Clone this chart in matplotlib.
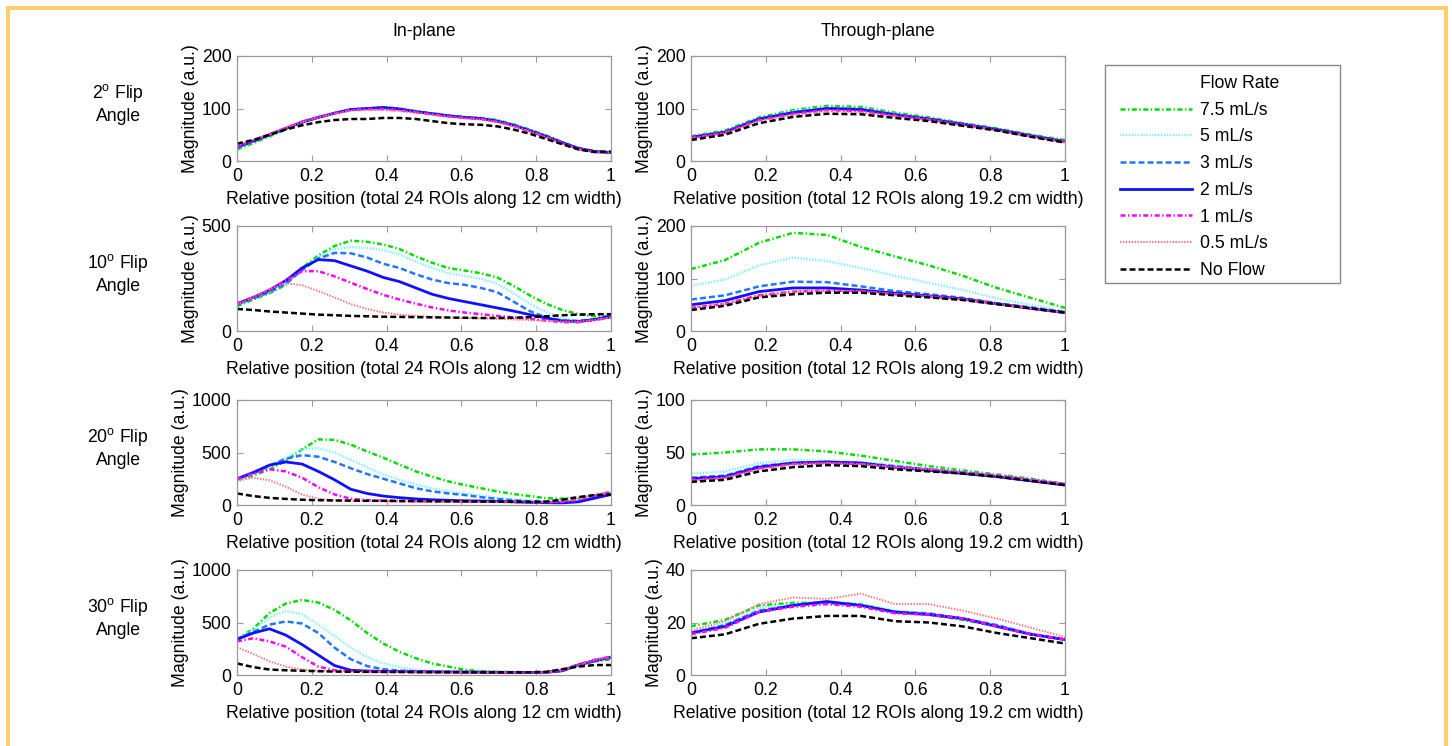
import matplotlib
matplotlib.use("Agg")
import matplotlib.pyplot as plt
from matplotlib.lines import Line2D
from matplotlib.patches import Rectangle
import numpy as np

# ---------------------------------------------------------------- data
flow_labels = ["7.5 mL/s", "5 mL/s", "3 mL/s", "2 mL/s", "1 mL/s", "0.5 mL/s", "No Flow"]
flip_angles = [2, 10, 20, 30]
column_titles = ["In-plane", "Through-plane"]
xlabels = ["Relative position (total 24 ROIs along 12 cm width)",
           "Relative position (total 12 ROIs along 19.2 cm width)"]
x_tick_values = [0, 0.2, 0.4, 0.6, 0.8, 1]
x_tick_labels = ["0", "0.2", "0.4", "0.6", "0.8", "1"]

# ROI centres, normalised to the slab width
n_rois_inplane = 24
n_rois_through = 12

# In-plane profiles (24 ROIs), one row per flow rate in flow_labels order
inplane_02 = [
    [22, 34, 47, 60, 73, 83, 91, 98, 100, 102, 100, 95, 91, 87, 84, 82, 78, 70, 60, 49, 36, 25, 19, 17],
    [24, 36, 49, 62, 74, 84, 92, 99, 100, 101, 99, 94, 90, 86, 83, 81, 77, 69, 59, 48, 35, 24, 18, 17],
    [25, 37, 50, 62, 74, 83, 91, 98, 100, 101, 99, 94, 90, 86, 83, 81, 76, 68, 58, 47, 35, 24, 18, 16],
    [27, 38, 50, 62, 74, 83, 91, 98, 100, 102, 99, 94, 90, 86, 83, 81, 76, 68, 58, 47, 35, 24, 18, 16],
    [28, 39, 51, 63, 75, 84, 91, 97, 99, 99, 97, 93, 89, 85, 82, 80, 75, 67, 57, 46, 34, 23, 17, 16],
    [29, 40, 51, 63, 74, 83, 90, 96, 97, 97, 95, 92, 88, 84, 81, 79, 74, 66, 56, 45, 33, 22, 17, 16],
    [33, 40, 50, 60, 68, 74, 78, 80, 80, 82, 82, 80, 76, 72, 70, 69, 66, 60, 52, 42, 32, 22, 17, 18],
]
inplane_10 = [
    [118, 150, 180, 220, 300, 360, 405, 430, 425, 412, 390, 355, 325, 300, 288, 275, 255, 215, 170, 130, 100, 80, 70, 70],
    [125, 155, 185, 225, 295, 350, 390, 400, 395, 385, 365, 330, 300, 275, 262, 248, 225, 180, 130, 90, 60, 50, 55, 65],
    [125, 155, 185, 225, 290, 345, 372, 370, 350, 320, 300, 270, 245, 228, 220, 205, 185, 140, 95, 65, 50, 48, 55, 65],
    [130, 160, 195, 240, 300, 340, 335, 310, 285, 255, 235, 205, 175, 155, 140, 125, 110, 95, 78, 62, 48, 45, 55, 70],
    [130, 160, 195, 240, 285, 285, 260, 230, 200, 172, 150, 130, 112, 98, 88, 80, 72, 65, 58, 50, 42, 42, 52, 65],
    [125, 160, 200, 228, 218, 190, 160, 128, 105, 88, 78, 72, 68, 65, 62, 60, 58, 55, 52, 48, 45, 45, 52, 65],
    [105, 100, 93, 88, 83, 78, 75, 72, 70, 68, 67, 66, 65, 64, 63, 62, 62, 63, 66, 70, 75, 78, 80, 80],
]
inplane_20 = [
    [240, 280, 340, 420, 530, 625, 620, 575, 510, 450, 385, 320, 270, 225, 190, 160, 130, 105, 85, 65, 60, 70, 90, 115],
    [245, 290, 360, 450, 530, 540, 500, 430, 360, 290, 240, 195, 160, 130, 110, 90, 70, 55, 42, 35, 28, 40, 75, 110],
    [245, 300, 375, 440, 475, 460, 410, 350, 295, 250, 205, 160, 130, 110, 95, 75, 58, 45, 35, 30, 25, 35, 70, 110],
    [250, 310, 380, 410, 390, 320, 240, 150, 110, 85, 70, 58, 50, 45, 40, 38, 35, 30, 25, 22, 20, 30, 65, 100],
    [245, 300, 340, 320, 260, 170, 100, 60, 45, 40, 38, 36, 35, 34, 33, 32, 30, 28, 26, 25, 30, 50, 90, 125],
    [230, 260, 235, 175, 100, 60, 45, 40, 38, 36, 35, 34, 33, 32, 31, 30, 30, 29, 28, 28, 35, 55, 95, 130],
    [110, 85, 68, 58, 50, 46, 43, 42, 40, 40, 38, 37, 36, 35, 34, 33, 32, 31, 30, 32, 50, 75, 95, 100],
]
inplane_30 = [
    [340, 440, 590, 680, 715, 690, 620, 520, 400, 300, 220, 160, 110, 80, 50, 35, 30, 28, 26, 28, 50, 100, 130, 150],
    [340, 430, 545, 610, 580, 480, 370, 260, 170, 110, 75, 50, 38, 33, 30, 28, 27, 26, 25, 25, 40, 100, 140, 165],
    [340, 410, 480, 510, 490, 400, 260, 150, 85, 55, 42, 36, 33, 30, 28, 27, 26, 25, 25, 25, 40, 100, 140, 165],
    [340, 400, 440, 380, 290, 190, 90, 45, 38, 35, 33, 31, 30, 29, 28, 27, 26, 25, 25, 25, 40, 95, 135, 170],
    [320, 350, 320, 270, 170, 80, 45, 38, 35, 33, 31, 30, 29, 28, 27, 26, 25, 25, 25, 25, 45, 100, 145, 175],
    [265, 200, 130, 80, 52, 40, 35, 32, 30, 29, 28, 27, 26, 25, 25, 25, 25, 25, 25, 25, 45, 95, 140, 170],
    [110, 75, 52, 45, 40, 36, 33, 31, 30, 29, 28, 27, 27, 26, 26, 25, 25, 25, 26, 30, 55, 80, 95, 95],
]

# Through-plane profiles (12 ROIs)
through_02 = [
    [47, 58, 83, 97, 105, 103, 92, 83, 72, 62, 50, 40],
    [46, 56, 81, 95, 102, 100, 90, 81, 71, 61, 49, 38],
    [45, 55, 80, 93, 100, 99, 89, 80, 70, 60, 48, 37],
    [45, 55, 80, 92, 100, 98, 88, 80, 70, 60, 48, 37],
    [44, 54, 78, 90, 97, 95, 87, 79, 69, 59, 47, 36],
    [43, 53, 77, 88, 95, 93, 85, 78, 68, 58, 47, 36],
    [40, 50, 72, 84, 90, 89, 82, 76, 67, 58, 46, 35],
]
through_10 = [
    [118, 135, 168, 187, 183, 160, 142, 125, 105, 82, 63, 44],
    [86, 98, 125, 140, 133, 120, 105, 92, 78, 62, 50, 38],
    [60, 68, 85, 94, 93, 85, 76, 70, 63, 53, 45, 36],
    [50, 58, 75, 82, 82, 78, 72, 67, 61, 52, 43, 35],
    [44, 52, 68, 75, 77, 76, 70, 66, 60, 52, 43, 35],
    [44, 52, 67, 75, 77, 76, 70, 66, 60, 52, 43, 35],
    [40, 48, 64, 70, 73, 73, 68, 64, 59, 51, 43, 35],
]
through_20 = [
    [48, 50, 53, 53, 51, 47, 42, 37, 33, 29, 25, 20],
    [30, 32, 40, 43, 42, 41, 38, 35, 32, 28, 24, 20],
    [26, 28, 37, 40, 41, 40, 37, 34, 31, 28, 24, 20],
    [25, 27, 36, 40, 41, 40, 36, 33, 30, 27, 23, 19],
    [24, 26, 35, 39, 40, 39, 36, 34, 31, 28, 24, 20],
    [23, 26, 34, 39, 40, 39, 36, 34, 31, 28, 24, 20],
    [22, 24, 32, 36, 38, 37, 34, 32, 30, 27, 23, 19],
]
through_30 = [
    [18.6, 21, 26.5, 27.5, 27.5, 27, 24, 23, 21, 18.5, 15.5, 13.5],
    [16.5, 19.5, 25.5, 27, 27.5, 27, 24.5, 23.5, 21.5, 19, 16, 13.5],
    [16, 19, 24.5, 26.5, 27.5, 26.5, 24, 23.5, 21.5, 19, 15.5, 13.5],
    [16, 18.5, 24, 26.5, 28, 26.5, 24, 23, 21.5, 18.5, 15.5, 13.5],
    [15.5, 18, 24, 26, 27, 26, 23.5, 23, 21.5, 18.5, 15.5, 13.5],
    [17, 20.5, 27, 29.5, 29, 31, 27, 27, 24.5, 21.5, 18, 14.5],
    [14, 15.5, 19.5, 21.5, 22.5, 22.5, 20.5, 20, 18.5, 16, 14, 12],
]

inplane_ylims = [200, 500, 1000, 1000]
inplane_yticks = [[0, 100, 200], [0, 500], [0, 500, 1000], [0, 500, 1000]]
through_ylims = [200, 200, 100, 40]
through_yticks = [[0, 100, 200], [0, 100, 200], [0, 50, 100], [0, 20, 40]]

# ---------------------------------------------------------------- style
plt.rcParams["font.family"] = ["Liberation Sans", "DejaVu Sans"]
plt.rcParams["mathtext.fontset"] = "custom"
plt.rcParams["mathtext.rm"] = "Liberation Sans"
plt.rcParams["lines.scale_dashes"] = False

FS = 12.7
series_styles = [
    dict(color="#00DD00", dashes=(3.6, 1.8, 1.0, 1.8), lw=1.8),
    dict(color="#80EEFF", dashes=(1.0, 1.1), lw=1.7),
    dict(color="#1E78FF", dashes=(4.3, 2.2), lw=1.8),
    dict(color="#1010FF", linestyle="-", lw=2.0),
    dict(color="#FF00FF", dashes=(3.6, 1.8, 1.0, 1.8), lw=1.8),
    dict(color="#FF7070", dashes=(1.0, 1.1), lw=1.4),
    dict(color="#000000", dashes=(4.3, 2.2), lw=1.8),
]
spine_gray = "#9a9a9a"

W, H = 1452, 746
fig = plt.figure(figsize=(W / 100, H / 100), dpi=100)


def fig_rect(x0, y0, x1, y1):
    """Pixel box (top-left origin) -> figure fraction rect."""
    return [x0 / W, 1 - y1 / H, (x1 - x0) / W, (y1 - y0) / H]


row_tops = [56, 226, 400, 570]
row_height = 105
col_lefts = [237, 691]
col_width = 374

panels = [
    (inplane_02, through_02),
    (inplane_10, through_10),
    (inplane_20, through_20),
    (inplane_30, through_30),
]

handles = None
for r in range(4):
    for c in range(2):
        data = panels[r][c]
        n = n_rois_inplane if c == 0 else n_rois_through
        x = np.linspace(0, 1, n)
        top = row_tops[r]
        ax = fig.add_axes(fig_rect(col_lefts[c], top, col_lefts[c] + col_width, top + row_height))
        lines = []
        for vals, lab, st in zip(data, flow_labels, series_styles):
            (ln,) = ax.plot(x, vals, label=lab, **st)
            lines.append(ln)
        if handles is None:
            handles = lines
        ymax = inplane_ylims[r] if c == 0 else through_ylims[r]
        yt = inplane_yticks[r] if c == 0 else through_yticks[r]
        ax.set_xlim(0, 1)
        ax.set_ylim(0, ymax)
        ax.set_xticks(x_tick_values)
        ax.set_xticklabels(x_tick_labels)
        ax.set_yticks(yt)
        ax.tick_params(direction="in", length=4, width=0.8, color=spine_gray,
                       labelsize=FS, top=True, right=True, pad=4)
        ax.tick_params(axis="x", pad=5)
        for sp in ax.spines.values():
            sp.set_color(spine_gray)
            sp.set_linewidth(0.9)
        ax.set_xlabel(xlabels[c], fontsize=FS, labelpad=4)
        ax.set_ylabel("Magnitude (a.u.)", fontsize=FS, labelpad=2)
        if r == 0:
            fig.text((col_lefts[c] + col_width / 2) / W, 1 - 31 / H, column_titles[c],
                     ha="center", va="center", fontsize=FS)
    # row label on the left
    fig.text(118 / W, 1 - (row_tops[r] + row_height / 2 - 5) / H,
             "%d$^\\mathregular{o}$ Flip\nAngle" % flip_angles[r],
             ha="center", va="center", fontsize=FS, linespacing=1.3)

# legend: heading row aligned with the entry labels, framed by a separate box
fig.patches.append(Rectangle((1105 / W, 1 - 283 / H), 235 / W, 218 / H, transform=fig.transFigure,
                             facecolor="white", edgecolor="#888888", linewidth=1.0, zorder=0))
heading = Line2D([], [], linestyle="none")
leg = fig.legend([heading] + handles, ["Flow Rate"] + flow_labels,
                 loc="upper left", bbox_to_anchor=(1120 / W, 1 - 75 / H),
                 borderaxespad=0, borderpad=0, fontsize=FS, handlelength=4.1,
                 handletextpad=0.45, labelspacing=0.55, frameon=False)

# yellow frame around the figure
frame_color = "#FFCF6E"
for rect in [fig_rect(6, 6, 1448, 10), fig_rect(6, 6, 10, 746), fig_rect(1444, 6, 1448, 746)]:
    fig.patches.append(Rectangle((rect[0], rect[1]), rect[2], rect[3], transform=fig.transFigure,
                                 facecolor=frame_color, edgecolor="none"))

fig.savefig("out.png", dpi=100, facecolor="white")
